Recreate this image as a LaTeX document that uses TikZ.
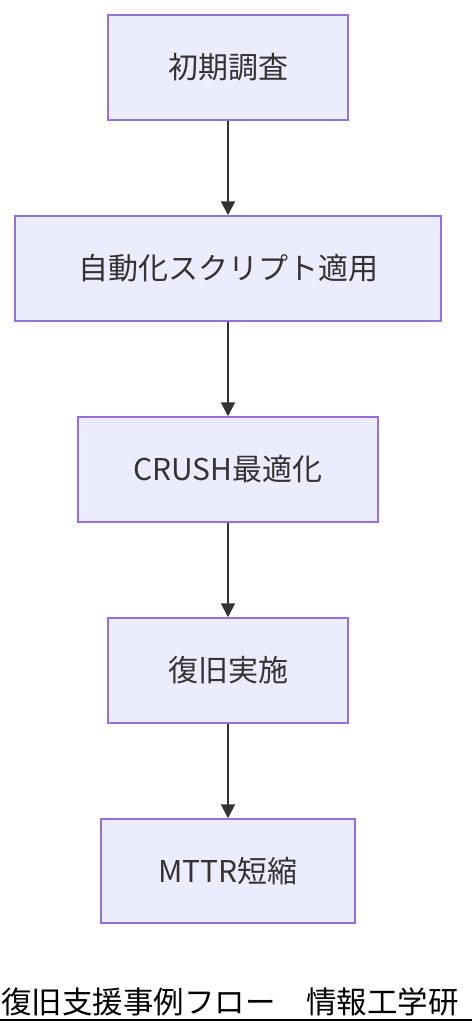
\documentclass[tikz,border=0pt]{standalone}
\usepackage{fontspec}
\setmainfont{Noto Sans CJK JP}
\usetikzlibrary{positioning,arrows.meta}
\definecolor{boxfill}{HTML}{ECECFF}
\definecolor{boxline}{HTML}{9370DB}
\definecolor{ink}{HTML}{333333}
\tikzset{
  stepbox/.style={draw=boxline, fill=boxfill, line width=1.5pt, minimum height=105pt,
    text=ink, font=\fontsize{30pt}{34pt}\selectfont, inner sep=0pt},
  flow/.style={-{Triangle[length=14pt,width=14pt]}, draw=ink, fill=ink, line width=2pt}
}
\begin{document}
\begin{tikzpicture}[x=1pt, y=-1pt, node distance=94.5pt]
	\useasboundingbox (0,0) rectangle (472,1036);
	\node[stepbox, minimum width=240pt] (survey) at (228,67.5) {初期調査};
	\node[stepbox, minimum width=426pt, below=of survey] (script) {自動化スクリプト適用};
	\node[stepbox, minimum width=300pt, below=of script] (crush) {CRUSH最適化};
	\node[stepbox, minimum width=240pt, below=of crush] (restore) {復旧実施};
	\node[stepbox, minimum width=254pt, minimum height=104pt, below=of restore] (mttr) {MTTR短縮};
	\draw[flow] (survey) -- (script);
	\draw[flow] (script) -- (crush);
	\draw[flow] (crush) -- (restore);
	\draw[flow] (restore) -- (mttr);
	% caption
	\node[anchor=base west, inner sep=0pt, font=\fontsize{30.5pt}{34pt}\selectfont] (caption) at (1,1013) {復旧支援事例フロー　情報工学研};
	\draw[line width=2pt] (0,1020) -- (472,1020);
\end{tikzpicture}
\end{document}
